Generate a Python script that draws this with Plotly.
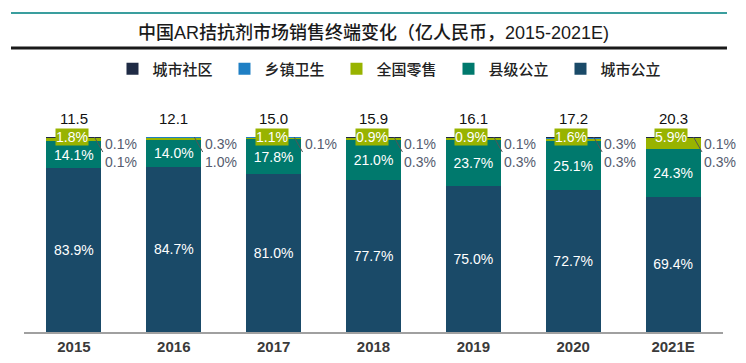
import plotly.graph_objects as go

years = ["2015", "2016", "2017", "2018", "2019", "2020", "2021E"]
totals = ["11.5", "12.1", "15.0", "15.9", "16.1", "17.2", "20.3"]
city_public = [83.9, 84.7, 81.0, 77.7, 75.0, 72.7, 69.4]
county_public = [14.1, 14.0, 17.8, 21.0, 23.7, 25.1, 24.3]
retail = [1.8, 1.0, 1.1, 0.9, 0.9, 1.6, 5.9]
township = [0.1, 0.3, 0.1, 0.1, 0.1, 0.3, 0.1]
community = [0.1, 0.0, 0.0, 0.3, 0.3, 0.3, 0.3]
retail_labels = ["1.8%", "", "1.1%", "0.9%", "0.9%", "1.6%", "5.9%"]
side_upper = ["0.1%", "0.3%", "0.1%", "0.1%", "0.1%", "0.3%", "0.1%"]
side_lower = ["0.1%", "1.0%", "", "0.3%", "0.3%", "0.3%", "0.3%"]

C_CITY = "#1a4a68"
C_COUNTY = "#00796d"
C_RETAIL = "#98b300"
C_TOWN = "#1f7fc4"
C_COMM = "#1f2b45"

FONT = "Liberation Sans, Noto Sans CJK SC, sans-serif"

fig = go.Figure()
fig.add_bar(x=years, y=city_public, name="城市公立", marker_color=C_CITY,
            text=[f"{v:.1f}%" for v in city_public], textposition="inside",
            insidetextanchor="middle", textangle=0,
            textfont=dict(color="white", size=14, family=FONT))
fig.add_bar(x=years, y=county_public, name="县级公立", marker_color=C_COUNTY,
            text=[f"{v:.1f}%" for v in county_public], textposition="inside",
            insidetextanchor="middle", textangle=0,
            textfont=dict(color="white", size=14, family=FONT))
fig.add_bar(x=years, y=retail, name="全国零售", marker_color=C_RETAIL)
fig.add_bar(x=years, y=township, name="乡镇卫生", marker_color=C_TOWN)
fig.add_bar(x=years, y=community, name="城市社区", marker_color=C_COMM)

for tr in fig.data:
    tr.marker.line.width = 0

ann = []
shapes = []
for i, y in enumerate(years):
    ann.append(dict(x=i, y=100, xref="x", yref="y", text=totals[i], showarrow=False,
                    yanchor="bottom", yshift=8, font=dict(size=15, color="#111", family=FONT)))
    if retail_labels[i]:
        ann.append(dict(x=i - 0.02, y=100, xref="x", yref="y", text=retail_labels[i],
                        showarrow=False, bgcolor=C_RETAIL, borderpad=0, yanchor="middle",
                        yshift=0,
                        font=dict(size=14, color="white", family=FONT)))
    if side_upper[i]:
        ann.append(dict(x=i + 0.47, y=96.3, xref="x", yref="y", text=side_upper[i],
                        showarrow=False, font=dict(size=14, color="#555b6e", family=FONT)))
    if side_lower[i]:
        ann.append(dict(x=i + 0.47, y=87.3, xref="x", yref="y", text=side_lower[i],
                        showarrow=False, font=dict(size=14, color="#555b6e", family=FONT)))
    shapes.append(dict(type="line", xref="x", yref="y", x0=i + 0.205, y0=100,
                       x1=i + 0.29, y1=92.3, line=dict(color="#555555", width=1)))

ann.append(dict(x=0.5, y=1.538, xref="paper", yref="paper", showarrow=False,
                yanchor="middle",
                text="中国AR拮抗剂市场销售终端变化（亿人民币，2015-2021E)",
                font=dict(size=18, color="#1a1a1a", family=FONT, weight=500)))
shapes.append(dict(type="line", xref="paper", yref="paper", x0=-0.0186, x1=1.0057,
                   y0=1.636, y1=1.636, line=dict(color="#3a9e9e", width=2)))
shapes.append(dict(type="line", xref="paper", yref="paper", x0=-0.0186, x1=1.0057,
                   y0=1.456, y1=1.456, line=dict(color="#1a1a1a", width=3)))

# page has an 8px body margin, so the figure is drawn 8px smaller and offset
fig.update_layout(
    width=738, height=355,
    margin=dict(l=16, r=23, t=129, b=31, autoexpand=False),
    barmode="stack", bargap=0.45,
    plot_bgcolor="white", paper_bgcolor="white",
    font=dict(family=FONT),
    showlegend=True,
    legend=dict(orientation="h", x=0.1266, xanchor="left", y=1.349, yanchor="middle",
                traceorder="reversed", font=dict(size=15, color="#222", weight=500),
                entrywidth=67, entrywidthmode="pixels", itemclick=False),
    uniformtext=dict(minsize=14, mode="show"),
    annotations=ann, shapes=shapes,
    xaxis=dict(showline=True, linecolor="#a0a0a0", linewidth=2, ticks="",
               tickfont=dict(size=15, color="#3a3a3a", weight="bold",
                             family="Liberation Sans Narrow, Liberation Sans"),
               range=[-0.5, 6.5]),
    yaxis=dict(range=[0, 100], showgrid=False, showticklabels=False, zeroline=False),
)

fig.write_html("out.html")
